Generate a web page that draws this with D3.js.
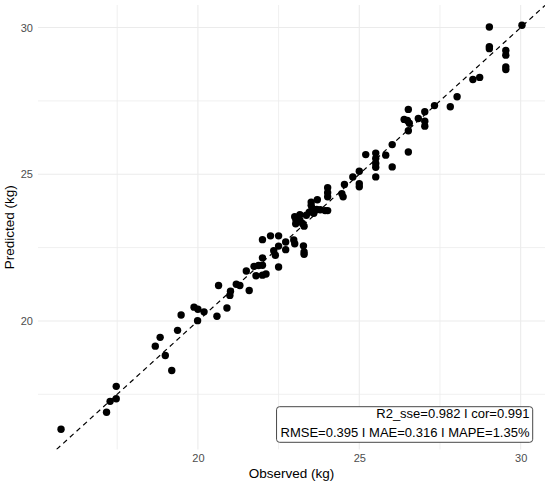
<!DOCTYPE html>
<html>
<head>
<meta charset="utf-8">
<script src="https://cdn.jsdelivr.net/npm/d3@7"></script>
<style>
  html, body { margin: 0; padding: 0; background: #fff; }
  svg { display: block; font-family: "Liberation Sans", Arial, Helvetica, sans-serif; }
</style>
</head>
<body>
<svg id="chart" width="550" height="485"></svg>
<script>
// ---- data ----
const observed = [
  15.76, 17.17, 17.28, 17.47, 17.47, 18.68, 18.83, 18.99, 19.19, 19.37,
  19.48, 19.88, 20.00, 19.99, 20.19, 20.59, 20.64, 20.90, 20.99, 21.01,
  21.19, 21.30, 21.59, 21.50, 21.74, 21.88, 22.00, 21.80, 22.00, 22.11,
  22.00, 22.50, 22.00, 22.25, 22.50, 22.35, 22.40, 22.50, 22.72, 22.72,
  22.97, 23.00, 23.27, 23.29, 23.29,
  23.00, 23.04, 23.03, 23.16, 23.24, 23.29, 23.16, 23.36, 23.45, 23.51,
  23.51, 23.54, 23.59, 23.70, 23.68, 23.79, 23.94, 24.02, 24.02, 24.02, 24.02,
  24.46, 24.50, 24.54, 24.80, 25.00, 25.00, 25.00, 25.20, 25.51, 25.51,
  25.51, 25.51, 25.51, 25.82, 26.02, 26.02, 26.39, 26.49, 26.55, 26.52,
  26.52, 26.52, 26.83, 27.03, 27.03, 27.03, 27.33, 27.82, 28.03, 28.52,
  28.73, 29.03, 29.03, 29.03, 29.54, 29.54, 29.54, 29.54, 30.04
];
const predicted = [
  16.31, 16.89, 17.26, 17.35, 17.77, 19.14, 19.44, 18.82, 18.31, 19.68,
  20.20, 20.47, 20.40, 20.01, 20.31, 20.16, 21.21, 20.44, 20.87, 21.01,
  21.25, 21.21, 21.04, 21.70, 21.86, 21.89, 21.90, 21.54, 21.56, 21.60,
  22.15, 21.84, 22.77, 22.90, 22.90, 22.39, 22.24, 22.55, 22.69, 22.43,
  22.76, 22.63, 22.56, 22.35, 22.27,
  23.55, 23.43, 23.31, 23.43, 23.32, 23.23, 23.62, 23.60, 23.71, 24.05,
  23.94, 23.83, 23.67, 24.13, 23.80, 23.79, 23.76, 23.76, 24.54, 24.37, 24.23,
  24.34, 24.23, 24.65, 24.91, 25.10, 24.68, 24.57, 25.67, 25.72, 25.54,
  25.37, 25.24, 24.91, 25.65, 26.01, 25.25, 26.87, 26.83, 26.74, 27.21,
  26.48, 25.76, 26.90, 27.13, 26.81, 26.64, 27.34, 27.30, 27.64, 28.23,
  28.30, 30.02, 29.35, 29.28, 29.22, 29.06, 28.66, 28.57, 30.08
];
const majorTicks = [20, 25, 30];
const minorTicks = [17.5, 22.5, 27.5];
const xTitle = "Observed (kg)";
const yTitle = "Predicted (kg)";
const statLines = ["R2_sse=0.982 I cor=0.991", "RMSE=0.395 I MAE=0.316 I MAPE=1.35%"];

// ---- layout ----
const W = 550, H = 485;
const margin = {left: 38, right: 5, top: 5, bottom: 35.6};
const svg = d3.select("#chart");

function expand(ext, f) { const d = ext[1] - ext[0]; return [ext[0] - d * f, ext[1] + d * f]; }
const x = d3.scaleLinear().domain(expand(d3.extent(observed), 0.05)).range([margin.left, W - margin.right]);
const y = d3.scaleLinear().domain(expand(d3.extent(predicted), 0.05)).range([H - margin.bottom, margin.top]);

const pts = observed.map((o, i) => ({o, p: predicted[i]}));

// grid
const g = svg.append("g");
const [x0, x1] = x.range(), [y0, y1] = y.range();
g.selectAll("line.vmin").data(minorTicks.filter(t => t > x.domain()[0] && t < x.domain()[1])).join("line")
  .attr("x1", d => x(d)).attr("x2", d => x(d)).attr("y1", y0).attr("y2", y1)
  .attr("stroke", "#ececec").attr("stroke-width", 0.8);
g.selectAll("line.hmin").data(minorTicks.filter(t => t > y.domain()[0] && t < y.domain()[1])).join("line")
  .attr("y1", d => y(d)).attr("y2", d => y(d)).attr("x1", x0).attr("x2", x1)
  .attr("stroke", "#ececec").attr("stroke-width", 0.8);
g.selectAll("line.vmaj").data(majorTicks).join("line")
  .attr("x1", d => x(d)).attr("x2", d => x(d)).attr("y1", y0).attr("y2", y1)
  .attr("stroke", "#ebebeb").attr("stroke-width", 1.1);
g.selectAll("line.hmaj").data(majorTicks).join("line")
  .attr("y1", d => y(d)).attr("y2", d => y(d)).attr("x1", x0).attr("x2", x1)
  .attr("stroke", "#ebebeb").attr("stroke-width", 1.1);

// axes (labels only)
const xAxis = svg.append("g").attr("transform", `translate(0,${y0})`)
  .call(d3.axisBottom(x).tickValues(majorTicks).tickSize(0).tickPadding(5));
const yAxis = svg.append("g").attr("transform", `translate(${x0},0)`)
  .call(d3.axisLeft(y).tickValues(majorTicks).tickSize(0).tickPadding(5));
[xAxis, yAxis].forEach(a => {
  a.select(".domain").remove();
  a.selectAll("text").attr("fill", "#4d4d4d").style("font-size", "11px")
    .style("font-family", '"Liberation Sans", Arial, sans-serif');
});

// clip
svg.append("clipPath").attr("id", "clip").append("rect")
  .attr("x", x0).attr("y", y1).attr("width", x1 - x0).attr("height", y0 - y1);

// identity line
const lo = Math.max(x.domain()[0], y.domain()[0]), hi = Math.min(x.domain()[1], y.domain()[1]);
svg.append("line").attr("clip-path", "url(#clip)")
  .attr("x1", x(lo)).attr("y1", y(lo)).attr("x2", x(hi)).attr("y2", y(hi))
  .attr("stroke", "#000").attr("stroke-width", 1.2).attr("stroke-dasharray", "5,4");

// points
svg.append("g").selectAll("circle").data(pts).join("circle")
  .attr("cx", d => x(d.o)).attr("cy", d => y(d.p)).attr("r", 3.7).attr("fill", "#000");

// titles
svg.append("text").attr("x", (x0 + x1) / 2).attr("y", 478).attr("text-anchor", "middle")
  .style("font-size", "13.5px").attr("fill", "#000").text(xTitle);
svg.append("text").attr("transform", `translate(14,${(y0 + y1) / 2}) rotate(-90)`)
  .attr("text-anchor", "middle").style("font-size", "13.5px").attr("fill", "#000").text(yTitle);

// stats label
const lab = svg.append("g");
const rect = lab.append("rect");
const tx = 529.5;
const texts = lab.selectAll("text").data(statLines).join("text")
  .attr("x", tx).attr("y", (d, i) => 418 + i * 18.5).attr("text-anchor", "end")
  .style("font-size", "13px").attr("fill", "#000").text(d => d);
let bb = lab.node().getBBox();
rect.attr("x", bb.x - 4).attr("y", 406.7).attr("width", 532.7 - (bb.x - 4)).attr("height", 442.3 - 406.7)
  .attr("rx", 3).attr("ry", 3).attr("fill", "#fff").attr("stroke", "#333").attr("stroke-width", 0.9);
</script>
</body>
</html>
